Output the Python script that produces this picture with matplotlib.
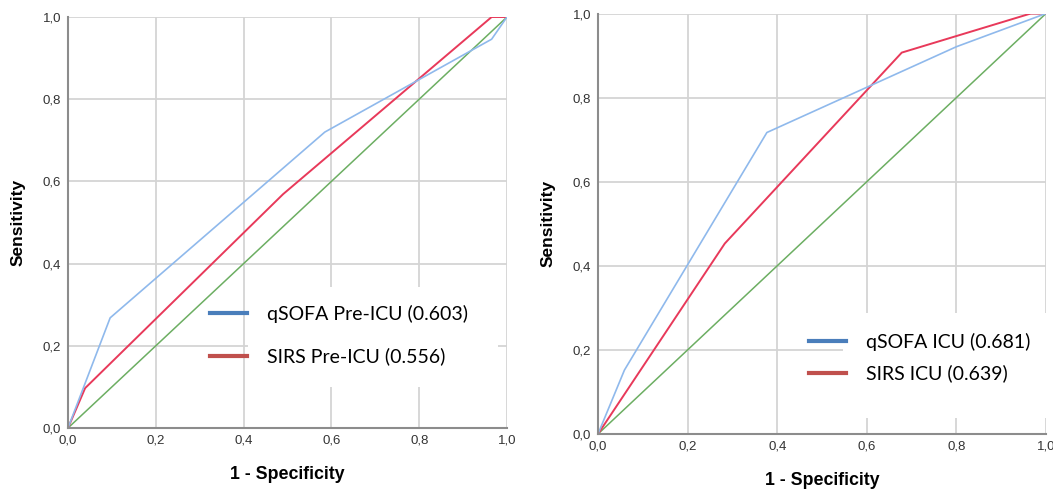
import matplotlib.pyplot as plt
from matplotlib.lines import Line2D
from matplotlib.patches import Rectangle
from matplotlib.ticker import FuncFormatter

# left panel: pre-ICU
pre_qsofa_x = [0.0, 0.096, 0.585, 0.965, 1.0]
pre_qsofa_y = [0.0, 0.268, 0.72, 0.946, 1.0]
pre_sirs_x = [0.0, 0.039, 0.49, 0.965, 1.0]
pre_sirs_y = [0.0, 0.097, 0.569, 1.0, 1.0]
pre_labels = ["qSOFA Pre-ICU (0.603)", "SIRS Pre-ICU (0.556)"]

# right panel: ICU
icu_qsofa_x = [0.0, 0.059, 0.377, 0.80, 1.0]
icu_qsofa_y = [0.0, 0.152, 0.717, 0.921, 1.0]
icu_sirs_x = [0.0, 0.283, 0.678, 0.966, 1.0]
icu_sirs_y = [0.0, 0.453, 0.907, 1.0, 1.0]
icu_labels = ["qSOFA ICU (0.681)", "SIRS ICU (0.639)"]

ref = [0.0, 1.0]
ticks = [0.0, 0.2, 0.4, 0.6, 0.8, 1.0]

c_blue = "#8fb9ec"
c_red = "#e8395a"
c_green = "#6cae62"
leg_blue = "#4a7ebb"
leg_red = "#c0504d"

fig = plt.figure(figsize=(10.53, 4.92), dpi=100)
ax1 = fig.add_axes([68/1053, 1-428/492, 439/1053, 411/492])
ax2 = fig.add_axes([598/1053, 1-434/492, 448/1053, 420.5/492])

fmt = FuncFormatter(lambda v, p: ("%.1f" % v).replace(".", ","))


def setup(ax):
    ax.set_xlim(0, 1)
    ax.set_ylim(0, 1)
    ax.set_xticks(ticks)
    ax.set_yticks(ticks)
    ax.xaxis.set_major_formatter(fmt)
    ax.yaxis.set_major_formatter(fmt)
    ax.grid(True, color="#d4d4d4", linewidth=1.3)
    ax.set_axisbelow(True)
    ax.tick_params(length=0, labelsize=9.5, colors="#333333", pad=5)
    for lab in ax.get_xticklabels() + ax.get_yticklabels():
        lab.set_family("Liberation Sans")
    for s in ["top", "right"]:
        ax.spines[s].set_visible(False)
    for s in ["left", "bottom"]:
        ax.spines[s].set_color("#8c8c8c")
        ax.spines[s].set_linewidth(1.5)
    ax.set_xlabel("1 - Specificity", fontsize=12.8, fontweight="bold",
                  family="Liberation Sans", labelpad=14)
    ax.set_ylabel("Sensitivity", fontsize=12.5, fontweight="bold",
                  family="Liberation Sans", labelpad=12)


setup(ax1)
setup(ax2)

# white boxes behind the legends (pasted legend look)
ax1.add_patch(Rectangle((0.41, 0.10), 0.57, 0.243, transform=ax1.transAxes,
                        facecolor="white", edgecolor="none", zorder=1))
ax2.add_patch(Rectangle((0.547, 0.038), 0.47, 0.25, transform=ax2.transAxes,
                        facecolor="white", edgecolor="none", zorder=1, clip_on=False))

ax1.plot(ref, ref, color=c_green, lw=1.1)
ax1.plot(pre_sirs_x, pre_sirs_y, color=c_red, lw=1.4)
ax1.plot(pre_qsofa_x, pre_qsofa_y, color=c_blue, lw=1.2)

ax2.plot(ref, ref, color=c_green, lw=1.1)
ax2.plot(icu_sirs_x, icu_sirs_y, color=c_red, lw=1.4)
ax2.plot(icu_qsofa_x, icu_qsofa_y, color=c_blue, lw=1.2)

handles = [Line2D([], [], color=leg_blue, lw=3), Line2D([], [], color=leg_red, lw=3)]

leg1 = ax1.legend(handles, pre_labels, loc="lower left", bbox_to_anchor=(0.275, 0.10),
                  frameon=False, prop={"family": "Lato", "size": 14}, handlelength=1.9,
                  handletextpad=1.0, labelspacing=1.25, borderpad=0.6)
leg2 = ax2.legend(handles, icu_labels, loc="lower left", bbox_to_anchor=(0.424, 0.072),
                  frameon=False, prop={"family": "Lato", "size": 14}, handlelength=1.9,
                  handletextpad=1.0, labelspacing=0.7, borderpad=0.6)

fig.savefig("out.png", dpi=100, facecolor="white")
